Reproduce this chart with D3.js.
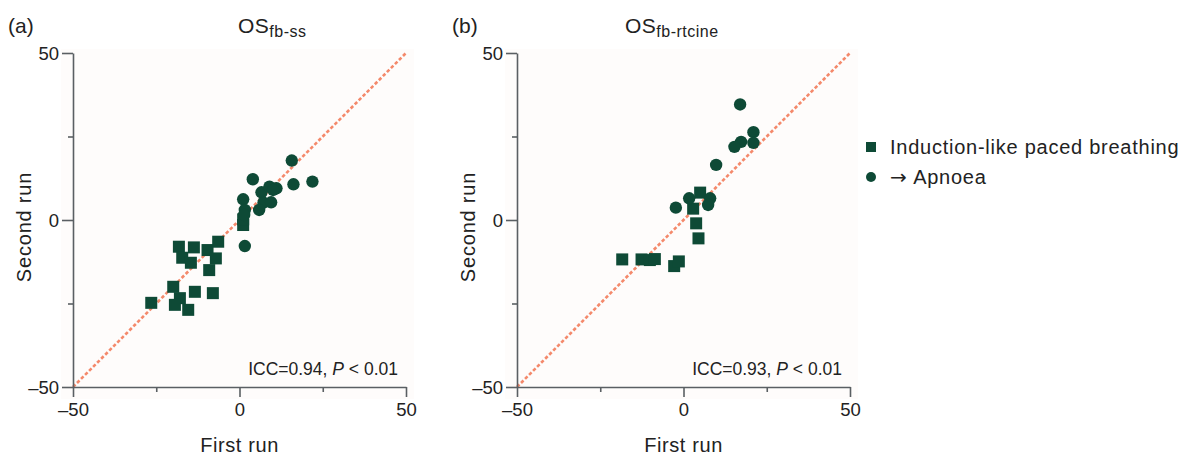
<!DOCTYPE html>
<html>
<head>
<meta charset="utf-8">
<script src="https://cdn.jsdelivr.net/npm/d3@7"></script>
<style>
  html, body { margin: 0; padding: 0; background: #fff; }
  svg { display: block; font-family: "Liberation Sans", Arial, sans-serif; }
</style>
</head>
<body>
<div id="container"></div>
<script>
const tickValues = [-50, -25, 0, 25, 50];
const tickLabels = [-50, 0, 50];

// (a) OS fb-ss
const aSquareFirst = [-26.5, -18.2, -13.7, -9.6, -6.4, -17.2, -14.6, -7.1, -9.1, -19.9, -13.4, -8.0, -17.9, -19.4, -15.4, 1.1, 1.1];
const aSquareSecond = [-24.8, -8.0, -8.2, -9.0, -6.5, -11.3, -12.8, -11.5, -15.0, -20.0, -21.5, -21.9, -23.4, -25.4, -26.9, -1.5, 0.2];
const aCircleFirst = [15.7, 4.0, 16.2, 21.9, 6.6, 9.0, 11.1, 10.1, 1.1, 7.2, 9.5, 5.9, 1.6, 1.4, 1.6];
const aCircleSecond = [17.8, 12.2, 10.7, 11.5, 8.3, 10.0, 9.5, 9.0, 6.2, 5.2, 5.3, 3.0, 3.0, 1.5, -7.8];

// (b) OS fb-rtcine
const bSquareFirst = [-18.4, -12.6, -10.1, -8.6, -2.8, -1.4, 5.0, 2.9, 3.8, 4.5];
const bSquareSecond = [-11.8, -11.8, -12.0, -11.7, -13.8, -12.4, 8.2, 3.4, -1.0, -5.5];
const bCircleFirst = [17.0, 21.0, 17.3, 15.3, 21.0, 9.8, 1.7, 8.0, 7.4, -2.3];
const bCircleSecond = [34.6, 26.3, 23.4, 21.9, 23.1, 16.5, 6.5, 6.5, 4.5, 3.7];

const legendLabels = ['Induction-like paced breathing', 'Apnoea'];

const panels = [
  { tag: '(a)', sub: 'fb-ss', icc: '0.94', left: 73, titleX: 238,
    squares: d3.zip(aSquareFirst, aSquareSecond), circles: d3.zip(aCircleFirst, aCircleSecond) },
  { tag: '(b)', sub: 'fb-rtcine', icc: '0.93', left: 517, titleX: 625,
    squares: d3.zip(bSquareFirst, bSquareSecond), circles: d3.zip(bCircleFirst, bCircleSecond) },
];

const W = 1187, H = 455;
const plotW = 333, plotTop = 53, plotBottom = 387;
const green = '#0e4a36';
const axisColor = '#5a5f63';
const ink = '#222';
const fmt = d => tickLabels.includes(d) ? String(d).replace('-', '\u2013') : '';

const svg = d3.select('#container').append('svg')
  .attr('width', W).attr('height', H);

panels.forEach(p => {
  const x = d3.scaleLinear().domain([-50, 50]).range([p.left, p.left + plotW]);
  const y = d3.scaleLinear().domain([-50, 50]).range([plotBottom, plotTop]);
  const g = svg.append('g');

  // fundo levemente tingido
  g.append('rect')
    .attr('x', p.left - 12).attr('y', plotTop - 4)
    .attr('width', plotW + 20).attr('height', plotBottom - plotTop + 16)
    .attr('fill', '#fefcfb');

  // linha identidade
  g.append('line')
    .attr('x1', x(-50)).attr('y1', y(-50))
    .attr('x2', x(50)).attr('y2', y(50))
    .attr('stroke', '#f4896b').attr('stroke-width', 2.6)
    .attr('stroke-dasharray', '3.5,2.2');

  // eixos
  const xAxis = g.append('g').attr('transform', `translate(0, ${plotBottom})`)
    .call(d3.axisBottom(x).tickValues(tickValues).tickFormat(fmt).tickSizeOuter(0));
  const yAxis = g.append('g').attr('transform', `translate(${p.left}, 0)`)
    .call(d3.axisLeft(y).tickValues(tickValues).tickFormat(fmt).tickSizeOuter(0));

  [xAxis, yAxis].forEach(ax => {
    ax.select('.domain').attr('stroke', axisColor).attr('stroke-width', 1.6);
    ax.selectAll('.tick line').attr('stroke', axisColor).attr('stroke-width', 1.6);
    ax.selectAll('.tick text').attr('fill', ink).style('font-size', '18.5px')
      .style('font-family', '"Liberation Sans", Arial, sans-serif');
  });
  xAxis.selectAll('.tick line').attr('y2', d => tickLabels.includes(d) ? 10 : 5);
  xAxis.selectAll('.tick text').attr('y', 16);
  yAxis.selectAll('.tick line').attr('x2', d => tickLabels.includes(d) ? -11 : -5);
  yAxis.selectAll('.tick text').attr('x', -14).attr('dy', '0.34em');

  // pontos
  g.append('g').selectAll('rect').data(p.squares).join('rect')
    .attr('x', d => x(d[0]) - 6).attr('y', d => y(d[1]) - 6)
    .attr('width', 12).attr('height', 12)
    .attr('fill', green);
  g.append('g').selectAll('circle').data(p.circles).join('circle')
    .attr('cx', d => x(d[0])).attr('cy', d => y(d[1])).attr('r', 6.2)
    .attr('fill', green);

  // títulos
  g.append('text').attr('x', p.left - 65).attr('y', 33)
    .style('font-size', '21px').attr('fill', ink).text(p.tag);
  const t = g.append('text').attr('x', p.titleX).attr('y', 33)
    .style('font-size', '21px').style('letter-spacing', '0.5px').attr('fill', ink);
  t.append('tspan').text('OS');
  t.append('tspan').attr('dy', 4).style('font-size', '16px').text(p.sub);

  // ICC
  const icc = g.append('text').attr('x', p.left + 325).attr('y', 375)
    .attr('text-anchor', 'end').style('font-size', '17.5px').attr('fill', ink);
  icc.append('tspan').text(`ICC=${p.icc}, `);
  icc.append('tspan').style('font-style', 'italic').text('P');
  icc.append('tspan').text(' < 0.01');

  // rótulos dos eixos
  g.append('text').attr('x', p.left + plotW / 2).attr('y', 452)
    .attr('text-anchor', 'middle').style('font-size', '20px')
    .style('letter-spacing', '0.6px').attr('fill', ink)
    .text('First run');
  g.append('text')
    .attr('transform', `translate(${p.left - 42}, ${y(0) + 7}) rotate(-90)`)
    .attr('text-anchor', 'middle').style('font-size', '20px')
    .style('letter-spacing', '0.8px').attr('fill', ink)
    .text('Second run');
});

// legenda
const legend = svg.append('g').attr('transform', 'translate(871, 147)');
legend.append('rect').attr('x', -5).attr('y', -5).attr('width', 10).attr('height', 10).attr('fill', green);
legend.append('circle').attr('cx', 0).attr('cy', 30).attr('r', 5).attr('fill', green);
const labels = legend.selectAll('text.lab').data(legendLabels).join('text')
  .attr('class', 'lab')
  .attr('x', 19).attr('y', (d, i) => i * 30).attr('dy', '0.35em')
  .style('font-size', '20px').style('letter-spacing', '0.75px').attr('fill', ink);
labels.filter((d, i) => i === 1).append('tspan')
  .style('font-family', '"DejaVu Sans", sans-serif').style('letter-spacing', '0')
  .text('\u2192 ');
labels.append('tspan').text(d => d);
</script>
</body>
</html>
